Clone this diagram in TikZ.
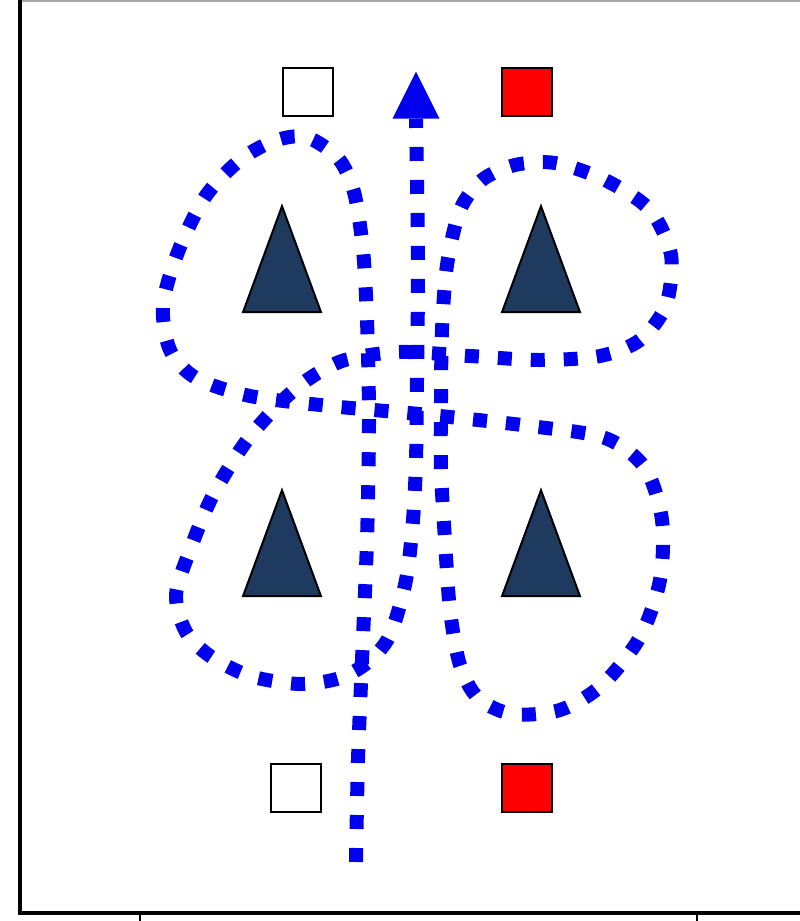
\documentclass[tikz,border=0pt]{standalone}
\usepackage{tikz}
\usetikzlibrary{positioning,shapes.geometric,arrows.meta}
\definecolor{navytri}{RGB}{31,58,95}
\definecolor{routeblue}{RGB}{0,0,238}

\begin{document}
\begin{tikzpicture}[
  x=1pt, y=-1pt,
  node distance=284pt and 259pt, % 三角形之间的距离
  on grid,
  cone/.style={draw=black, line width=2pt, fill=navytri, isosceles triangle,
    shape border rotate=90, isosceles triangle stretches,
    minimum width=78pt, minimum height=106pt, inner sep=0pt},
  box/.style={draw=black, line width=2pt, minimum width=50pt, minimum height=48pt, inner sep=0pt},
  route/.style={draw=routeblue, line width=14pt, dash pattern=on 14pt off 19pt}
]
\useasboundingbox (0,0) rectangle (800,921);

% 边框
\draw[black!35, line width=1.5pt] (20,1) -- (800,1);
\draw[line width=4pt] (20,0) -- (20,913) -- (800,913);
\draw[line width=2pt] (140,913) -- (140,921);
\draw[line width=2pt] (697,913) -- (697,921);

% 三角形
\node (coneTL) [cone] at (282,285) {};
\node (coneTR) [cone, right=of coneTL] {};
\node (coneBL) [cone, below=of coneTL] {};
\node (coneBR) [cone, below=of coneTR] {};

% 方块
\node (boxTW) [box, fill=white] at (308,92) {};
\node (boxTR) [box, fill=red] at (527,92) {};
\node (boxBW) [box, fill=white] at (296,788) {};
\node (boxBR) [box, fill=red] at (527,788) {};

% 箭头
\node (tip) [isosceles triangle, shape border rotate=90, isosceles triangle stretches,
  fill=routeblue, minimum width=47pt, minimum height=47pt, inner sep=0pt] at (416,104) {};
\coordinate (start) at (356,862);

% 路线
\draw[route] plot[smooth] coordinates {
  (start) (358,760) (362,660) (367,540) (369,420) (367,320) (363,250) (354,192)
  (338,158) (306,137) (274,141) (240,160) (205,197) (178,252) (163,305) (170,350)
  (196,378) (250,396) (330,406) (430,415) (530,426) (605,438) (645,468) (662,520)
  (660,580) (640,637) (602,685) (560,710) (512,714) (478,698) (460,665) (450,610)
  (445,540) (441,470) (441,400) (442,330) (447,265) (460,210) (482,180) (515,165)
  (555,163) (605,180) (650,210) (671,255) (666,305) (640,340) (600,356) (540,360)
  (470,356) (400,352) (345,360) (310,378) (280,403) (245,443) (212,497) (190,550)
  (176,595) (186,632) (210,656) (250,676) (300,684) (340,678) (368,662) (390,635)
  (406,580) (413,520) (416,460) (417,380) (418,260) (tip.south)
};
\end{tikzpicture}
\end{document}
